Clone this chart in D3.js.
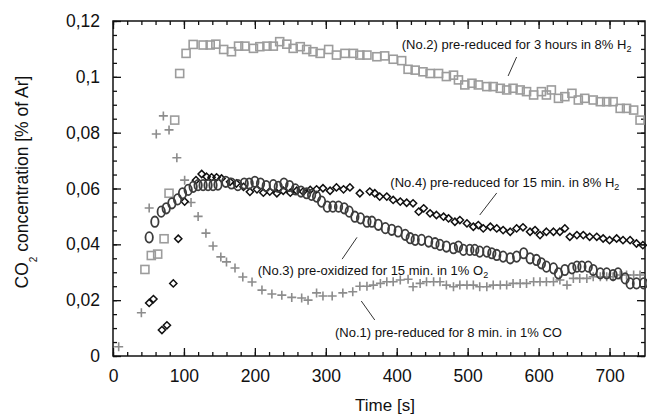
<!DOCTYPE html>
<html>
<head>
<meta charset="utf-8">
<script src="https://cdn.jsdelivr.net/npm/d3@7"></script>
<style>
  body { margin: 0; background: #fff; }
  svg { display: block; }
</style>
</head>
<body>
<svg width="647" height="416"></svg>
<script>
// CO2 release after different pre-treatments
// values, time in s, CO2 in % of Ar

// (No.1) pre-reduced 8 min in 1% CO  -> plus
var no1_time = [8,40,51,61,71,79,90,101,110,120,131,141,152,160,172,183,196,210,224,238,
  252,266,275,287,296,309,324,338,348,358,367,377,386,395,405,416,423,433,442,452,
  461,470,480,489,499,508,517,527,536,546,555,564,574,583,593,602,611,621,630,640,
  649,658,668,677,687,696,705,715,724,734,743];
var no1_vals = [0.0033,0.0155,0.053,0.0795,0.086,0.081,0.071,0.063,0.055,0.050,0.044,0.0394,0.0355,0.0337,0.0315,0.0283,0.0265,0.0236,0.0222,0.0218,
  0.021,0.0208,0.020,0.0226,0.0215,0.0215,0.0226,0.023,0.025,0.025,0.0254,0.026,0.0266,0.0266,0.0272,0.0275,0.0248,0.026,0.0266,0.0266,
  0.0266,0.0254,0.0248,0.0254,0.0254,0.0254,0.0248,0.0248,0.0254,0.0254,0.0254,0.026,0.026,0.026,0.0266,0.0266,0.0266,0.0266,0.0272,0.0254,
  0.0278,0.0278,0.0278,0.0284,0.0284,0.0284,0.0284,0.029,0.029,0.029,0.029];

// (No.2) pre-reduced 3 h in 8% H2 -> square
var no2_time = [45,54,63,72,79,87,94,103,113,127,137,145,156,167,177,186,198,207,217,226,
  235,245,254,264,273,282,292,304,315,327,339,348,358,372,383,395,407,416,426,437,
  447,459,470,480,487,496,506,515,527,536,546,555,564,574,583,593,604,611,618,628,
  637,647,656,665,677,687,696,705,715,724,734,743];
var no2_vals = [0.031,0.036,0.0365,0.042,0.0583,0.0845,0.1012,0.1084,0.1116,0.1114,0.1114,0.1117,0.1098,0.1090,0.1110,0.1110,0.1102,0.1108,0.1110,0.1110,
  0.1126,0.1117,0.1102,0.1108,0.1098,0.1090,0.1084,0.1098,0.1078,0.1084,0.1084,0.1078,0.1078,0.1072,0.1075,0.1063,0.1058,0.1027,0.1024,0.1018,
  0.1012,0.1012,0.1001,0.1006,0.0989,0.0971,0.0977,0.0971,0.0965,0.0965,0.0959,0.0953,0.0959,0.0953,0.0947,0.0935,0.0947,0.0935,0.0953,0.0923,
  0.0929,0.0941,0.0917,0.0923,0.0917,0.0911,0.0911,0.0911,0.0887,0.0887,0.0881,0.0845];

// (No.3) pre-oxidized 15 min in 1% O2 -> oval
var no3_time = [51,59,68,75,83,91,98,106,113,120,127,134,141,148,159,167,176,185,192,200,
  208,216,226,233,241,249,257,265,273,280,287,294,302,310,318,326,333,341,349,358,
  365,374,384,393,402,412,419,426,435,445,454,461,470,480,487,494,503,510,517,527,
  534,541,550,560,569,579,588,597,604,611,621,628,637,647,654,661,670,677,687,696,
  705,712,722,729,738,748];
var no3_vals = [0.0425,0.0481,0.0517,0.0529,0.0547,0.0561,0.0583,0.0595,0.0606,0.0612,0.0612,0.0612,0.0612,0.0614,0.0624,0.0618,0.0612,0.0618,0.0618,0.0624,
  0.0618,0.0609,0.0612,0.0606,0.0618,0.0609,0.0597,0.0589,0.0583,0.0577,0.0571,0.0553,0.0535,0.0535,0.0535,0.0529,0.0517,0.0499,0.0493,0.0481,
  0.0481,0.0470,0.0458,0.0452,0.0446,0.0434,0.0422,0.0416,0.0416,0.0410,0.0404,0.0398,0.0392,0.0386,0.0392,0.0380,0.0380,0.0380,0.0374,0.0374,
  0.0368,0.0362,0.0356,0.0350,0.0356,0.0368,0.0350,0.0344,0.0332,0.0320,0.0314,0.0296,0.0308,0.0314,0.0320,0.0320,0.0320,0.0308,0.0296,0.0296,
  0.0290,0.0296,0.0278,0.0260,0.0260,0.0260];

// (No.4) pre-reduced 15 min in 8% H2 -> diamond
var no4_time = [51,57,69,76,85,92,101,117,125,132,139,146,153,165,174,184,193,203,212,221,
  231,240,250,259,268,278,287,296,306,315,325,334,348,362,369,376,386,395,405,414,
  423,431,438,447,456,466,473,482,489,499,508,515,522,532,541,550,560,569,578,588,
  595,602,611,621,630,637,644,654,663,672,682,691,700,710,719,729,738,747];
var no4_vals = [0.019,0.0204,0.0093,0.011,0.026,0.042,0.0553,0.0630,0.0652,0.0642,0.0640,0.0640,0.0636,0.0624,0.0618,0.0606,0.0588,0.0597,0.0585,0.0589,
  0.0583,0.0592,0.0585,0.0592,0.0589,0.0595,0.0597,0.0601,0.0592,0.0604,0.0597,0.0604,0.0583,0.0589,0.0583,0.0571,0.0571,0.0559,0.0553,0.0549,
  0.0547,0.0517,0.0529,0.0511,0.0505,0.0499,0.0493,0.0481,0.0487,0.0475,0.0463,0.0469,0.0457,0.0463,0.0457,0.0451,0.0445,0.0457,0.0461,0.0445,
  0.0451,0.0433,0.0445,0.0445,0.0445,0.0457,0.0427,0.0433,0.0433,0.0427,0.0427,0.0421,0.0415,0.0421,0.0415,0.0415,0.0403,0.0397];

var xTicks = [0,100,200,300,400,500,600,700];
var xTickLabels = ["0","100","200","300","400","500","600","700"];
var yTicks = [0,0.02,0.04,0.06,0.08,0.1,0.12];
var yTickLabels = ["0","0,02","0,04","0,06","0,08","0,1","0,12"];

var font = "Liberation Sans, Arial, Helvetica, sans-serif";

var svg = d3.select("svg"),
    width = +svg.attr("width"),
    height = +svg.attr("height");

var x = d3.scaleLinear().domain([0, 750]).range([113, 645]);
var y = d3.scaleLinear().domain([0, 0.12]).range([356, 21]);

var xMinor = d3.range(0, 750, 20);
var yMinor = d3.range(0, 0.1201, 0.005);

function zip(t, v) {
  return t.map(function(d, i) { return {t: d, v: v[i]}; });
}

// --- axes, ticks point inwards on all four sides
function tickAxis(axis, tr) {
  var g = svg.append("g")
      .attr("transform", tr)
      .call(axis)
      .attr("font-family", font)
      .attr("font-size", 17.5);
  g.select(".domain").remove();
  g.selectAll(".tick line").attr("stroke", "#111").attr("stroke-width", 1.3);
  g.selectAll(".tick text").attr("fill", "#111");
  return g;
}

tickAxis(d3.axisBottom(x).tickValues(xMinor).tickSize(-4).tickFormat(""), "translate(0,356)");
tickAxis(d3.axisBottom(x).tickValues(xTicks).tickSize(-8).tickPadding(14)
    .tickFormat(function(d, i) { return xTickLabels[i]; }), "translate(0,356)");
tickAxis(d3.axisTop(x).tickValues(xMinor).tickSize(-4).tickFormat(""), "translate(0,21)");
tickAxis(d3.axisTop(x).tickValues(xTicks).tickSize(-8).tickFormat(""), "translate(0,21)");

tickAxis(d3.axisLeft(y).tickValues(yMinor).tickSize(-4).tickFormat(""), "translate(113,0)");
tickAxis(d3.axisLeft(y).tickValues(yTicks).tickSize(-8).tickPadding(13)
    .tickFormat(function(d, i) { return yTickLabels[i]; }), "translate(113,0)");
tickAxis(d3.axisRight(y).tickValues(yMinor).tickSize(-4).tickFormat(""), "translate(645,0)");
tickAxis(d3.axisRight(y).tickValues(yTicks).tickSize(-8).tickFormat(""), "translate(645,0)");

svg.append("rect")
    .attr("x", x(0)).attr("y", y(0.12))
    .attr("width", x(750) - x(0)).attr("height", y(0) - y(0.12))
    .attr("fill", "none").attr("stroke", "#111").attr("stroke-width", 1.5);

// axis titles
svg.append("text")
    .attr("x", 385).attr("y", 411)
    .attr("text-anchor", "middle")
    .attr("font-family", font).attr("font-size", 17).attr("fill", "#111")
    .text("Time [s]");

var yt = svg.append("text")
    .attr("transform", "translate(28,182) rotate(-90)")
    .attr("text-anchor", "middle")
    .attr("font-family", font).attr("font-size", 17.5).attr("fill", "#111");
yt.append("tspan").text("CO");
yt.append("tspan").attr("dy", 9).attr("font-size", 10).text("2");
yt.append("tspan").attr("dy", -9).text(" concentration [% of Ar]");

// --- markers
var marks = svg.append("g").attr("fill", "none");

marks.append("g")
    .attr("stroke", "#9c9c9c").attr("stroke-width", 1.6)
    .selectAll("rect")
    .data(zip(no2_time, no2_vals))
    .enter().append("rect")
    .attr("x", function(d) { return x(d.t) - 4; })
    .attr("y", function(d) { return y(d.v) - 4; })
    .attr("width", 8).attr("height", 8);

marks.append("g")
    .attr("stroke", "#8c8c8c").attr("stroke-width", 1.6)
    .selectAll("path")
    .data(zip(no1_time, no1_vals))
    .enter().append("path")
    .attr("transform", function(d) { return "translate(" + x(d.t) + "," + y(d.v) + ")"; })
    .attr("d", "M-4.5,0H4.5M0,-4.5V4.5");

marks.append("g")
    .attr("stroke", "#111").attr("stroke-width", 1.5)
    .selectAll("path")
    .data(zip(no4_time, no4_vals))
    .enter().append("path")
    .attr("transform", function(d) { return "translate(" + x(d.t) + "," + y(d.v) + ")"; })
    .attr("d", "M0,-3.6L3.6,0L0,3.6L-3.6,0Z");

marks.append("g")
    .attr("stroke", "#3c3c3c").attr("stroke-width", 1.8)
    .selectAll("ellipse")
    .data(zip(no3_time, no3_vals))
    .enter().append("ellipse")
    .attr("cx", function(d) { return x(d.t); })
    .attr("cy", function(d) { return y(d.v); })
    .attr("rx", 3.7).attr("ry", 5.2);

// --- labels with leader lines (positions in data units)
var notes = [
  {main: "(No.2) pre-reduced for 3 hours in 8% H", sub: "2", tx: 407, ty: 0.110, l: [569, 0.1071, 557, 0.1003]},
  {main: "(No.4) pre-reduced for 15 min. in 8% H", sub: "2", tx: 391, ty: 0.0605, l: [541, 0.0584, 517, 0.0505]},
  {main: "(No.3) pre-oxidized for 15 min. in 1% O", sub: "2", tx: 204, ty: 0.0290, l: [344, 0.0425, 323, 0.0347]},
  {main: "(No.1) pre-reduced for 8 min. in 1% CO", sub: "", tx: 313, ty: 0.0068, l: [350, 0.0197, 369, 0.0129]}
];

var note = svg.append("g")
    .attr("font-family", font).attr("font-size", 13).attr("fill", "#111");

notes.forEach(function(n) {
  note.append("line")
      .attr("x1", x(n.l[0])).attr("y1", y(n.l[1]))
      .attr("x2", x(n.l[2])).attr("y2", y(n.l[3]))
      .attr("stroke", "#333").attr("stroke-width", 1);
  var t = note.append("text").attr("x", x(n.tx)).attr("y", y(n.ty));
  t.append("tspan").text(n.main);
  if (n.sub) t.append("tspan").attr("dy", 3).attr("font-size", 9).text(n.sub);
});
</script>
</body>
</html>
